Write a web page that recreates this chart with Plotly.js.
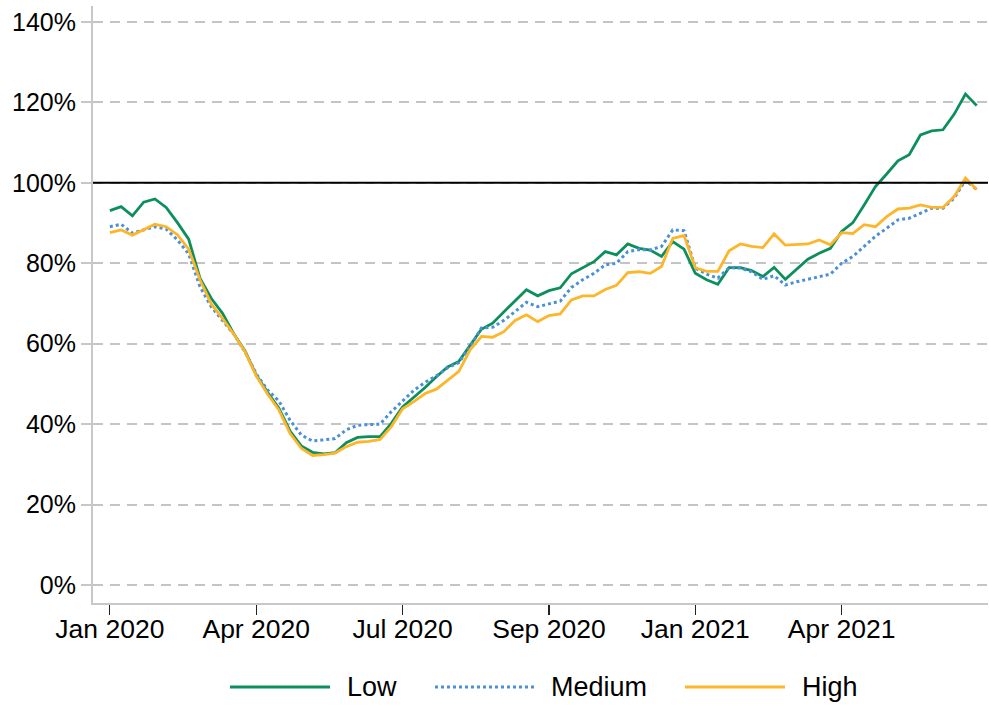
<!DOCTYPE html>
<html>
<head>
<meta charset="utf-8">
<script src="https://cdn.plot.ly/plotly-3.0.1.min.js"></script>
<style>html,body{margin:0;padding:0;background:#fff;}#chart{width:989px;height:708px;}</style>
</head>
<body>
<div id="chart"></div>
<script>
// Week index (weekly observations from Jan 2020)
var weeks = [];
for (var i = 0; i < 78; i++) weeks.push(i);

var tickPositions = [0, 13, 26, 39, 52, 65];
var tickLabels = ["Jan 2020", "Apr 2020", "Jul 2020", "Sep 2020", "Jan 2021", "Apr 2021"];

var seriesNames = ["Low", "Medium", "High"];

var low = [93.1, 94.1, 91.8, 95.2, 96.0, 93.9, 90.1, 86.0, 76.3, 71.3, 67.6, 62.5, 58.2, 52.2, 47.9, 44.0, 38.3, 34.6, 33.0, 32.6,
  32.9, 35.4, 36.7, 36.9, 36.9, 40.2, 44.3, 46.6, 49.1, 51.8, 54.2, 55.6, 59.7, 63.6, 65.1, 68.0, 70.7, 73.4, 71.9, 73.2,
  73.9, 77.4, 78.8, 80.4, 82.9, 82.1, 84.8, 83.7, 83.3, 81.7, 85.4, 83.5, 77.5, 75.9, 74.8, 78.9, 78.9, 78.2, 76.7, 79.0,
  76.0, 78.5, 81.0, 82.5, 83.7, 87.9, 90.1, 94.5, 99.1, 102.2, 105.5, 107.0, 111.9, 112.9, 113.2, 117.1, 122.1, 119.2];

var medium = [89.1, 89.7, 87.5, 88.3, 89.1, 88.5, 85.8, 82.3, 74.2, 69.2, 65.9, 62.4, 58.0, 52.5, 48.5, 45.8, 41.0, 37.3, 35.8, 36.1,
  36.4, 38.6, 39.7, 39.9, 40.0, 43.1, 45.8, 48.4, 50.4, 52.0, 54.0, 55.3, 59.3, 63.9, 64.1, 65.8, 68.0, 70.3, 69.2, 69.9,
  70.6, 74.0, 75.9, 77.5, 79.6, 80.0, 82.9, 83.4, 83.3, 84.2, 88.3, 88.1, 78.8, 77.3, 76.3, 78.9, 78.8, 77.9, 76.0, 76.9,
  74.6, 75.4, 76.0, 76.7, 77.3, 80.0, 81.7, 84.2, 86.7, 88.7, 90.8, 91.2, 92.5, 93.7, 93.7, 96.2, 100.7, 98.3];

var high = [87.6, 88.3, 87.0, 88.3, 89.7, 89.1, 87.1, 83.5, 75.9, 69.9, 66.3, 62.4, 58.0, 52.0, 47.5, 43.6, 37.7, 34.0, 32.2, 32.4,
  32.8, 34.4, 35.5, 35.7, 36.2, 39.4, 43.8, 45.6, 47.6, 48.7, 50.9, 53.1, 58.5, 61.8, 61.6, 63.0, 65.8, 67.2, 65.5, 67.0,
  67.4, 70.9, 71.9, 71.9, 73.5, 74.5, 77.7, 77.9, 77.5, 79.2, 86.2, 86.9, 78.9, 78.0, 78.0, 83.1, 84.8, 84.2, 83.9, 87.3,
  84.5, 84.6, 84.8, 85.8, 84.6, 87.6, 87.4, 89.6, 89.1, 91.6, 93.5, 93.7, 94.5, 93.9, 93.9, 96.6, 101.2, 98.3];

var yTicks = [0, 20, 40, 60, 80, 100, 120, 140];
var yTickLabels = ["0%", "20%", "40%", "60%", "80%", "100%", "120%", "140%"];
var referenceLevel = 100;

var colors = ["#0c8f5c", "#4a90d8", "#fdb52a"];
var widths = [2.8, 3, 2.8];
var dashes = ["solid", "dot", "solid"];
var seriesData = [low, medium, high];

var traces = seriesData.map(function (s, k) {
  return {x: weeks, y: s, name: seriesNames[k], type: "scatter", mode: "lines",
          showlegend: false, line: {color: colors[k], width: widths[k], dash: dashes[k]}};
});

// Manual legend (positions in paper coordinates, below plot)
var legLineX0 = [0.1531, 0.3821, 0.6615];
var legLineLen = 0.1117;
var legTextX = [0.2816, 0.5095, 0.7899];
var legY = -0.1407;

var shapes = [
  {type: "line", xref: "paper", x0: 0, x1: 1, yref: "y", y0: referenceLevel, y1: referenceLevel,
   line: {color: "#000", width: 2}, layer: "above"}
];
var annotations = [];
for (var k = 0; k < 3; k++) {
  shapes.push({type: "line", xref: "paper", yref: "paper", x0: legLineX0[k], x1: legLineX0[k] + legLineLen,
               y0: legY, y1: legY, line: {color: colors[k], width: widths[k], dash: dashes[k]}});
  annotations.push({xref: "paper", yref: "paper", x: legTextX[k], y: legY, xanchor: "left", yanchor: "middle",
                    text: seriesNames[k], showarrow: false, font: {size: 27, color: "#000"}});
}

var layout = {
  width: 989, height: 708,
  margin: {l: 93, r: 1, t: 6, b: 105},
  paper_bgcolor: "#ffffff", plot_bgcolor: "#ffffff",
  font: {family: "Arial, 'Liberation Sans', sans-serif", size: 24, color: "#000"},
  showlegend: false,
  xaxis: {
    range: [-1.5, 78], tickmode: "array", tickvals: tickPositions, ticktext: tickLabels,
    showgrid: false, zeroline: false, showline: true, linecolor: "#c8c8c8", linewidth: 2,
    ticks: "outside", ticklen: 10, tickcolor: "#222", tickwidth: 1.2,
    tickfont: {size: 26.5}, ticklabelstandoff: -9
  },
  yaxis: {
    range: [-4.48, 143.98], tickmode: "array", tickvals: yTicks, ticktext: yTickLabels,
    showgrid: true, gridcolor: "#c4c4c4", gridwidth: 2, griddash: "10px,7px",
    zeroline: false, showline: true, linecolor: "#c8c8c8", linewidth: 2,
    ticks: "outside", ticklen: 10, tickcolor: "#c8c8c8", tickwidth: 2,
    tickfont: {size: 25}
  },
  shapes: shapes,
  annotations: annotations
};

Plotly.newPlot("chart", traces, layout, {displayModeBar: false, staticPlot: true});
</script>
</body>
</html>
